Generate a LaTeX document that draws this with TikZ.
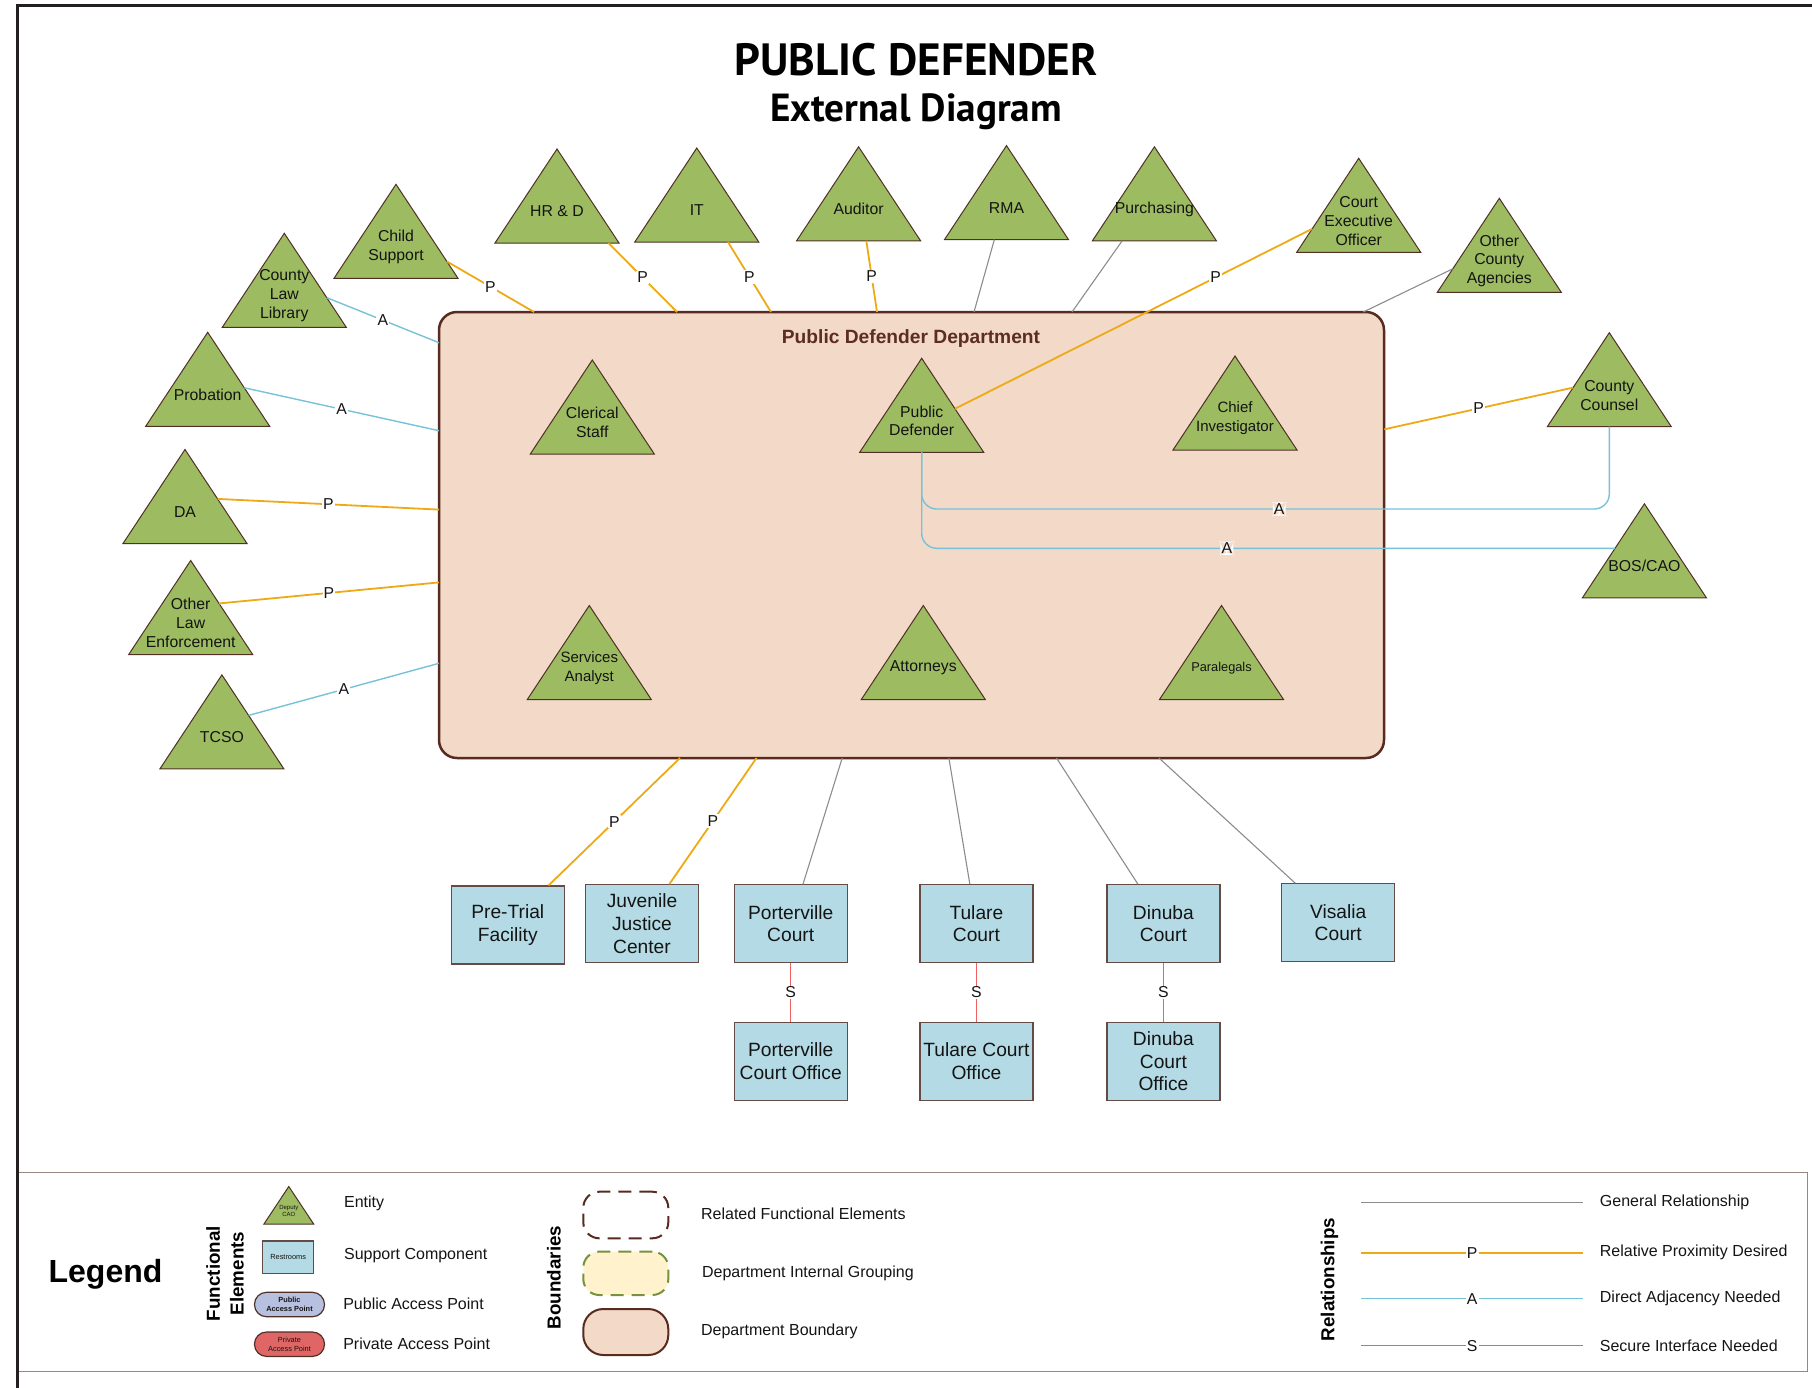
\documentclass[tikz,border=0pt]{standalone}
\usepackage{fontspec}
\setmainfont{Liberation Sans}
\newfontfamily\titlefont{PT Sans}
\usetikzlibrary{shapes.geometric,calc}

\definecolor{entgreen}{RGB}{157,187,97}
\definecolor{entedge}{RGB}{80,48,38}
\definecolor{suppblue}{RGB}{180,219,229}
\definecolor{suppedge}{RGB}{100,75,70}
\definecolor{deptfill}{RGB}{242,217,200}
\definecolor{deptedge}{RGB}{88,42,32}
\definecolor{deptbrown}{RGB}{92,46,34}
\definecolor{proxcol}{RGB}{238,170,20}
\definecolor{adjcol}{RGB}{120,194,216}
\definecolor{gencol}{RGB}{140,140,140}
\definecolor{seccol}{RGB}{240,96,96}
\definecolor{legframe}{RGB}{150,135,128}
\definecolor{framecol}{RGB}{35,31,32}
\definecolor{pubblue}{RGB}{183,192,222}
\definecolor{privred}{RGB}{224,102,102}
\definecolor{cream}{RGB}{255,242,204}
\definecolor{grpgreen}{RGB}{118,146,60}
\definecolor{txt}{RGB}{20,20,20}

% entity: triangle node plus its label node
\newcommand{\mkentity}[5][7.9]{%
  \node[ent] (#2) at (#3,#4) {};
  \node[entlabel, font=\fontsize{#1}{9.4}\selectfont] (#2-t) at (#3,#4+62.5) {#5};}

\begin{document}
\begin{tikzpicture}[x=0.5pt,y=-0.5pt,
  ent/.style={isosceles triangle, isosceles triangle stretches, shape border rotate=90,
    minimum width=62pt, minimum height=47pt, inner sep=0pt, outer sep=0pt,
    fill=entgreen, draw=entedge, line width=0.5pt, anchor=apex},
  entlabel/.style={align=center, inner sep=0pt, text=txt},
  supp/.style={rectangle, draw=suppedge, fill=suppblue, line width=0.6pt,
    minimum width=56.5pt, minimum height=39pt, inner sep=1pt, align=center, text=txt,
    font=\fontsize{9.6}{11.4}\selectfont},
  prox/.style={draw=proxcol, line width=0.9pt},
  adj/.style={draw=adjcol, line width=0.7pt},
  gen/.style={draw=gencol, line width=0.55pt},
  sec/.style={draw=seccol, line width=0.7pt},
  rlab/.style={fill=white, inner sep=0.6pt, text=txt, font=\fontsize{7.9}{9}\selectfont},
  legtext/.style={anchor=west, inner sep=0pt, text=txt, font=\fontsize{8}{9.5}\selectfont},
  leghead/.style={rotate=90, align=center, inner sep=0pt, text=black,
    font=\bfseries\fontsize{9.4}{11.8}\selectfont},
  pill/.style={draw=entedge, line width=0.6pt, rounded corners=6pt, minimum width=35pt,
    minimum height=12.2pt, inner sep=0pt, align=center, text=txt,
    font=\fontsize{3.7}{4.4}\selectfont},
  bound/.style={minimum width=42.5pt, rounded corners=8pt, line width=1pt, inner sep=0pt}
]
\useasboundingbox (0,0) rectangle (1812,1388);

% titles
\node[font=\titlefont\bfseries\fontsize{22.6}{26}\selectfont, anchor=base, inner sep=0pt] (title) at (916,75) {PUBLIC DEFENDER};
\node[font=\titlefont\bfseries\fontsize{19.6}{23}\selectfont, anchor=base, inner sep=0pt] (subtitle) at (916,121.5) {External Diagram};

% department boundary
\node[draw=deptedge, fill=deptfill, line width=1.25pt, rounded corners=9pt,
  minimum width=472.5pt, minimum height=223pt, inner sep=0pt] (dept) at (911.5,535) {};
\node[font=\bfseries\fontsize{9.6}{11}\selectfont, text=deptbrown, inner sep=0pt] (deptlabel) at (911,338.5) {Public Defender Department};

% outside entities
\mkentity{cs}{396}{184.3}{Child\\Support}
\mkentity{cll}{284.3}{233.3}{County\\Law\\Library}
\mkentity{prob}{207.7}{332.3}{Probation}
\mkentity{da}{185}{449.5}{DA}
\mkentity{ole}{190.7}{560.5}{Other\\Law\\Enforcement}
\mkentity{tcso}{221.9}{674.9}{TCSO}
\mkentity{hrd}{557}{149}{HR \& D}
\mkentity{it}{696.8}{148}{IT}
\mkentity{aud}{858.6}{146.8}{Auditor}
\mkentity{rma}{1006.5}{145.6}{RMA}
\mkentity{purch}{1154.4}{146.8}{Purchasing}
\mkentity{ceo}{1358.7}{158.3}{Court\\Executive\\Officer}
\mkentity{oca}{1499.3}{198.3}{Other\\County\\Agencies}
\mkentity{cc}{1609.3}{332.7}{County\\Counsel}
\mkentity{bos}{1644.4}{503.8}{BOS/CAO}

% entities inside the department
\mkentity{cler}{592.3}{360}{Clerical\\Staff}
\mkentity{pd}{921.7}{358.3}{Public\\Defender}
\mkentity[7.5]{ci}{1235}{356}{Chief\\Investigator}
\mkentity[7.5]{sa}{589.3}{605.5}{Services\\Analyst}
\mkentity{att}{923.3}{605.5}{Attorneys}
\mkentity[6.4]{para}{1221.5}{605.5}{Paralegals}

% support components
\node[supp] (pretrial) at (507.8,925) {Pre-Trial\\Facility};
\node[supp] (juv) at (642,923.7) {Juvenile\\Justice\\Center};
\node[supp] (portc) at (790.7,923.7) {Porterville\\Court};
\node[supp] (tulc) at (976.4,923.7) {Tulare\\Court};
\node[supp] (dinc) at (1163.4,923.7) {Dinuba\\Court};
\node[supp] (visc) at (1338.2,922.7) {Visalia\\Court};
\node[supp] (portco) at (790.7,1061.3) {Porterville\\Court Office};
\node[supp] (tulco) at (976.4,1061.3) {Tulare Court\\Office};
\node[supp] (dinco) at (1163.4,1061.3) {Dinuba\\Court\\Office};

% connection points on the department boundary
\coordinate (dn1) at (534,312);
\coordinate (dn2) at (677,312);
\coordinate (dn3) at (771,312);
\coordinate (dn4) at (877,312);
\coordinate (dn5) at (974,312);
\coordinate (dn6) at (1072,312);
\coordinate (dn7) at (1363.3,312);
\coordinate (dw1) at (439,342.7);
\coordinate (dw2) at (439,430.7);
\coordinate (dw3) at (439,509.6);
\coordinate (dw4) at (439,582.4);
\coordinate (dw5) at (439,663.3);
\coordinate (de1) at (1384.3,429.3);
\coordinate (ds1) at (680,758);
\coordinate (ds2) at (756.5,758);
\coordinate (ds3) at (842.2,758);
\coordinate (ds4) at (948.9,758);
\coordinate (ds5) at (1056.5,758);
\coordinate (ds6) at (1159,758);
\coordinate (pdturn1) at (921.7,509);
\coordinate (pdturn2) at (921.7,548.3);

% relationships along the top
\draw[prox] (cs.-18.3) -- node[rlab]{P} (dn1);
\draw[prox] (hrd.-33.7) -- node[rlab]{P} (dn2);
\draw[prox] (it.-47.6) -- node[rlab]{P} (dn3);
\draw[prox] (aud.-77.8) -- node[rlab]{P} (dn4);
\draw[gen] (rma.-110.4) -- (dn5);
\draw[gen] (purch.-134.1) -- (dn6);
\draw[gen] (oca.-168.5) -- (dn7);
\draw[prox] (ceo.-168.5) -- node[rlab, pos=0.27]{P} (pd.17.7);

% relationships on the left and right
\draw[adj] (cll.-5.1) -- node[rlab]{A} (dw1);
\draw[adj] (prob.8.1) -- node[rlab]{A} (dw2);
\draw[prox] (da.19.9) -- node[rlab]{P} (dw3);
\draw[prox] (ole.32.5) -- node[rlab]{P} (dw4);
\draw[adj] (tcso.37.9) -- node[rlab]{A} (dw5);
\draw[prox] (cc.171.2) -- node[rlab]{P} (de1);

% adjacency from the Public Defender
\draw[adj, rounded corners=7.5pt] (pd.lower side) -- (pdturn1)
  -- node[rlab, pos=0.52]{A} (pdturn1 -| cc.lower side) -- (cc.lower side);
\draw[adj, rounded corners=7.5pt] (pd.lower side) -- (pdturn2)
  -- node[rlab, pos=0.44]{A} (pdturn2 -| bos.151.3);

% relationships along the bottom
\draw[prox] (ds1) -- node[rlab]{P} (pretrial);
\draw[prox] (ds2) -- node[rlab]{P} (juv);
\draw[gen] (ds3) -- (portc);
\draw[gen] (ds4) -- (tulc);
\draw[gen] (ds5) -- (dinc);
\draw[gen] (ds6) -- (visc);
\draw[sec] (portc) -- node[rlab]{S} (portco);
\draw[sec] (tulc) -- node[rlab]{S} (tulco);
\draw[sec] (dinc) -- node[rlab]{S} (dinco);

% legend frame
\draw[draw=legframe, line width=0.6pt] (17.5,1172.7) rectangle (1807.3,1371.7);

% page frame
\draw[draw=framecol, line width=1.35pt] (16,5.3) -- (1812,5.3);
\draw[draw=framecol, line width=1.25pt] (17.5,4) -- (17.5,1388);

% legend
\node[font=\bfseries\fontsize{16}{19}\selectfont, anchor=base, inner sep=0pt, text=black] (lg) at (105.5,1282) {Legend};
\node[leghead] (lgfe) at (225,1273.5) {Functional\\Elements};
\node[leghead] (lgbd) at (554,1277.5) {Boundaries};
\node[leghead] (lgrel) at (1329.6,1279.5) {Relationships};

\node[ent, minimum width=25pt, minimum height=18.85pt] (lgent) at (288.8,1186.5) {};
\node[entlabel, font=\fontsize{3}{3.6}\selectfont] (lgent-t) at (288.8,1211) {Deputy\\CAO};
\node[supp, minimum width=25.6pt, minimum height=16.2pt, inner sep=0pt, font=\fontsize{3.7}{4.4}\selectfont] (lgsup) at (288.2,1257.2) {Restrooms};
\node[pill, fill=pubblue] (lgpub) at (289.5,1304.5) {\bfseries Public\\\bfseries Access Point};
\node[pill, fill=privred] (lgpriv) at (289.5,1344.2) {Private\\Access Point};
\node[legtext] (lgt1) at (343.7,1203.3) {Entity};
\node[legtext] (lgt2) at (343.7,1256) {Support Component};
\node[legtext] (lgt3) at (342.9,1303.3) {Public Access Point};
\node[legtext] (lgt4) at (342.9,1343.3) {Private Access Point};

\node[bound, draw=deptedge, dashed, dash pattern=on 6.5pt off 4pt, minimum height=23.3pt] (lgb1) at (625.8,1215) {};
\node[bound, draw=grpgreen, fill=cream, dashed, dash pattern=on 6.5pt off 4pt, minimum height=21.7pt] (lgb2) at (625.8,1273.3) {};
\node[bound, draw=deptedge, fill=deptfill, minimum height=23pt, rounded corners=10pt] (lgb3) at (625.8,1332) {};
\node[legtext] (lgt5) at (700.7,1213.3) {Related Functional Elements};
\node[legtext] (lgt6) at (701.7,1273.3) {Department Internal Grouping};
\node[legtext] (lgt7) at (700.7,1331.7) {Department Boundary};

\coordinate (lr1a) at (1361,1202.7); \coordinate (lr1b) at (1583.3,1202.7);
\coordinate (lr2a) at (1361,1252.7); \coordinate (lr2b) at (1583.3,1252.7);
\coordinate (lr3a) at (1361,1298.7); \coordinate (lr3b) at (1583.3,1298.7);
\coordinate (lr4a) at (1361,1345.7); \coordinate (lr4b) at (1583.3,1345.7);
\draw[gen] (lr1a) -- (lr1b);
\draw[prox] (lr2a) -- node[rlab]{P} (lr2b);
\draw[adj] (lr3a) -- node[rlab]{A} (lr3b);
\draw[sec] (lr4a) -- node[rlab]{S} (lr4b);
\node[legtext] (lgt8) at (1599.5,1202.7) {General Relationship};
\node[legtext] (lgt9) at (1599.5,1252.7) {Relative Proximity Desired};
\node[legtext] (lgt10) at (1599.5,1298.7) {Direct Adjacency Needed};
\node[legtext] (lgt11) at (1599.5,1345.7) {Secure Interface Needed};
\end{tikzpicture}
\end{document}
